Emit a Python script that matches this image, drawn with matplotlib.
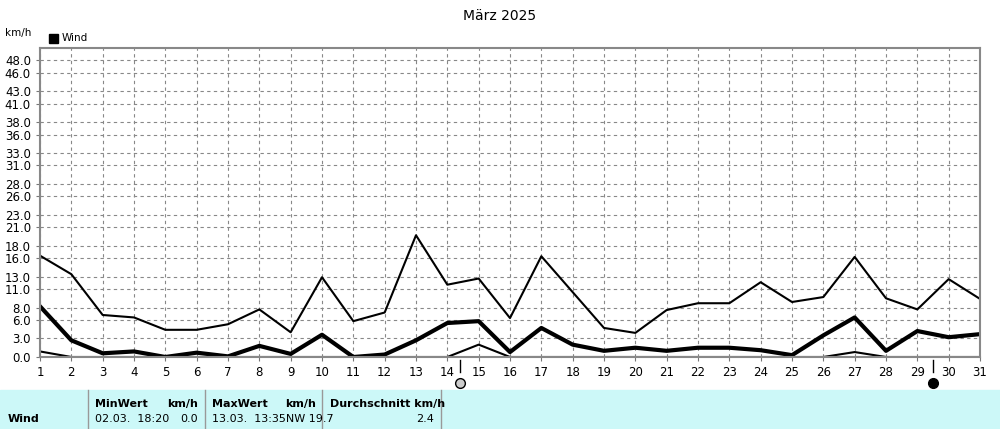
import matplotlib
matplotlib.use("Agg")
import matplotlib.pyplot as plt

days = list(range(1, 32))
wind_max = [16.4,13.4,6.8,6.4,4.4,4.4,5.3,7.7,4.0,12.9,5.8,7.2,19.7,11.7,12.7,6.3,16.3,10.5,4.7,3.9,7.6,8.7,8.7,12.1,8.9,9.7,16.2,9.5,7.7,12.6,9.4]
wind_avg = [8.2,2.7,0.6,0.9,0.0,0.7,0.1,1.8,0.5,3.6,0.0,0.4,2.7,5.5,5.8,0.8,4.7,2.0,1.0,1.5,1.0,1.5,1.5,1.1,0.3,3.5,6.4,1.0,4.2,3.2,3.7]
wind_min = [0.9,0,0,0,0,0,0,0,0,0,0,0,0,0,2.0,0,0,0,0,0,0,0,0,0,0,0,0.8,0,0,0,0]
yticks = [0,3,6,8,11,13,16,18,21,23,26,28,31,33,36,38,41,43,46,48]
ytick_labels = ["0.0","3.0","6.0","8.0","11.0","13.0","16.0","18.0","21.0","23.0","26.0","28.0","31.0","33.0","36.0","38.0","41.0","43.0","46.0","48.0"]

W, H = 1000, 429
fig = plt.figure(figsize=(10, 4.29), dpi=100)
fig.patch.set_facecolor("white")
ax = fig.add_axes([40/W, 1-357/H, 940/W, 309/H])
ax.plot(days, wind_max, color="black", lw=1.5)
ax.plot(days, wind_avg, color="black", lw=3)
ax.plot(days, wind_min, color="black", lw=1.5)
ax.set_xlim(1, 31)
ax.set_ylim(0, 50)
ax.set_xticks(days)
ax.set_yticks(yticks)
ax.set_yticklabels(ytick_labels)
ax.grid(True, color="#888888", ls=(0, (3, 3)), lw=0.8)
ax.tick_params(labelsize=8.5, length=3, color="#777777")
for s in ax.spines.values():
    s.set_color("#888888"); s.set_linewidth(1.5)

fig.text(0.5, 1-16/H, "März 2025", ha="center", va="center", fontsize=10)
fig.text(5/W, 1-33/H, "km/h", fontsize=7.5, va="center")
fig.patches.append(plt.Rectangle((49/W, 1-43/H), 9/W, 9/H, transform=fig.transFigure, color="black"))
fig.text(62/W, 1-38/H, "Wind", fontsize=7.5, va="center")

# sun markers
for xd, fc in [(14.4, "#cccccc"), (29.5, "black")]:
    xf = (40 + (xd-1)*940/30)/W
    fig.lines.append(plt.Line2D([xf, xf], [1-360/H, 1-372/H], color="black", lw=1, transform=fig.transFigure))
    fig.lines.append(plt.Line2D([xf], [1-383/H], marker="o", ms=7, mfc=fc, mec="black", transform=fig.transFigure))

# table
fig.patches.append(plt.Rectangle((0, 0), 1, 39/H, transform=fig.transFigure, color="#CCF8F8"))
for xv in [88, 205, 322, 441]:
    fig.lines.append(plt.Line2D([xv/W, xv/W], [0, 39/H], color="#999999", lw=1, transform=fig.transFigure))
y1, y2 = 1-404/H, 1-419/H
b = dict(fontsize=8, fontweight="bold", va="center")
n = dict(fontsize=8, va="center")
fig.text(8/W, y2, "Wind", **b)
fig.text(95/W, y1, "MinWert", **b); fig.text(198/W, y1, "km/h", ha="right", **b)
fig.text(95/W, y2, "02.03.  18:20", **n); fig.text(198/W, y2, "0.0", ha="right", **n)
fig.text(212/W, y1, "MaxWert", **b); fig.text(316/W, y1, "km/h", ha="right", **b)
fig.text(212/W, y2, "13.03.  13:35NW 19.7", **n)
fig.text(330/W, y1, "Durchschnitt km/h", **b); fig.text(434/W, y2, "2.4", ha="right", **n)

fig.savefig("out.png", dpi=100)
